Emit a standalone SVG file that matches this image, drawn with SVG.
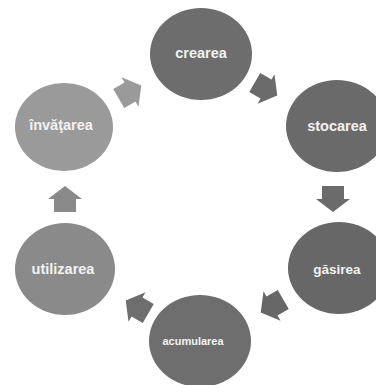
<svg xmlns="http://www.w3.org/2000/svg" width="376" height="385" viewBox="0 0 376 385">
<style>
.lbl{font-family:"Liberation Sans",Arial,sans-serif;font-weight:bold;font-size:14.5px;fill:#f2f2f2;text-anchor:middle}
.small{font-size:11px}
.mid{font-size:13.5px}
</style>
<defs>
<path id="arr" d="M-13,-11 H0 V-17 L13,0 L0,17 V11 H-13 Z"/>
</defs>
<rect width="376" height="385" fill="#ffffff"/>
<g id="connectors">
<use href="#arr" transform="translate(130,92) rotate(-30)" fill="#9a9a9a"/>
<use href="#arr" transform="translate(266,89) rotate(30)" fill="#6b6b6b"/>
<use href="#arr" transform="translate(333,199) rotate(90)" fill="#6b6b6b"/>
<use href="#arr" transform="translate(272,306) rotate(150)" fill="#676767"/>
<use href="#arr" transform="translate(137,307) rotate(210)" fill="#6e6e6e"/>
<use href="#arr" transform="translate(65,199) rotate(270)" fill="#8a8a8a"/>
</g>
<g id="crearea">
<ellipse cx="201" cy="54" rx="51" ry="46" fill="#6d6d6d"/>
<text class="lbl" x="201" y="58">crearea</text>
</g>
<g id="stocarea">
<ellipse cx="337" cy="126" rx="51" ry="46" fill="#6a6a6a"/>
<text class="lbl" x="337" y="131">stocarea</text>
</g>
<g id="gasirea">
<ellipse cx="339" cy="268" rx="51" ry="46" fill="#676767"/>
<text class="lbl mid" x="337" y="274">găsirea</text>
</g>
<g id="acumularea">
<ellipse cx="200" cy="341" rx="51" ry="46" fill="#6e6e6e"/>
<text class="lbl small" x="193" y="345">acumularea</text>
</g>
<g id="utilizarea">
<ellipse cx="65" cy="269" rx="50" ry="46" fill="#8a8a8a"/>
<text class="lbl" x="63" y="274">utilizarea</text>
</g>
<g id="invatarea">
<ellipse cx="64" cy="127" rx="49" ry="44" fill="#9a9a9a"/>
<text class="lbl" x="61" y="130">învăţarea</text>
</g>
</svg>
